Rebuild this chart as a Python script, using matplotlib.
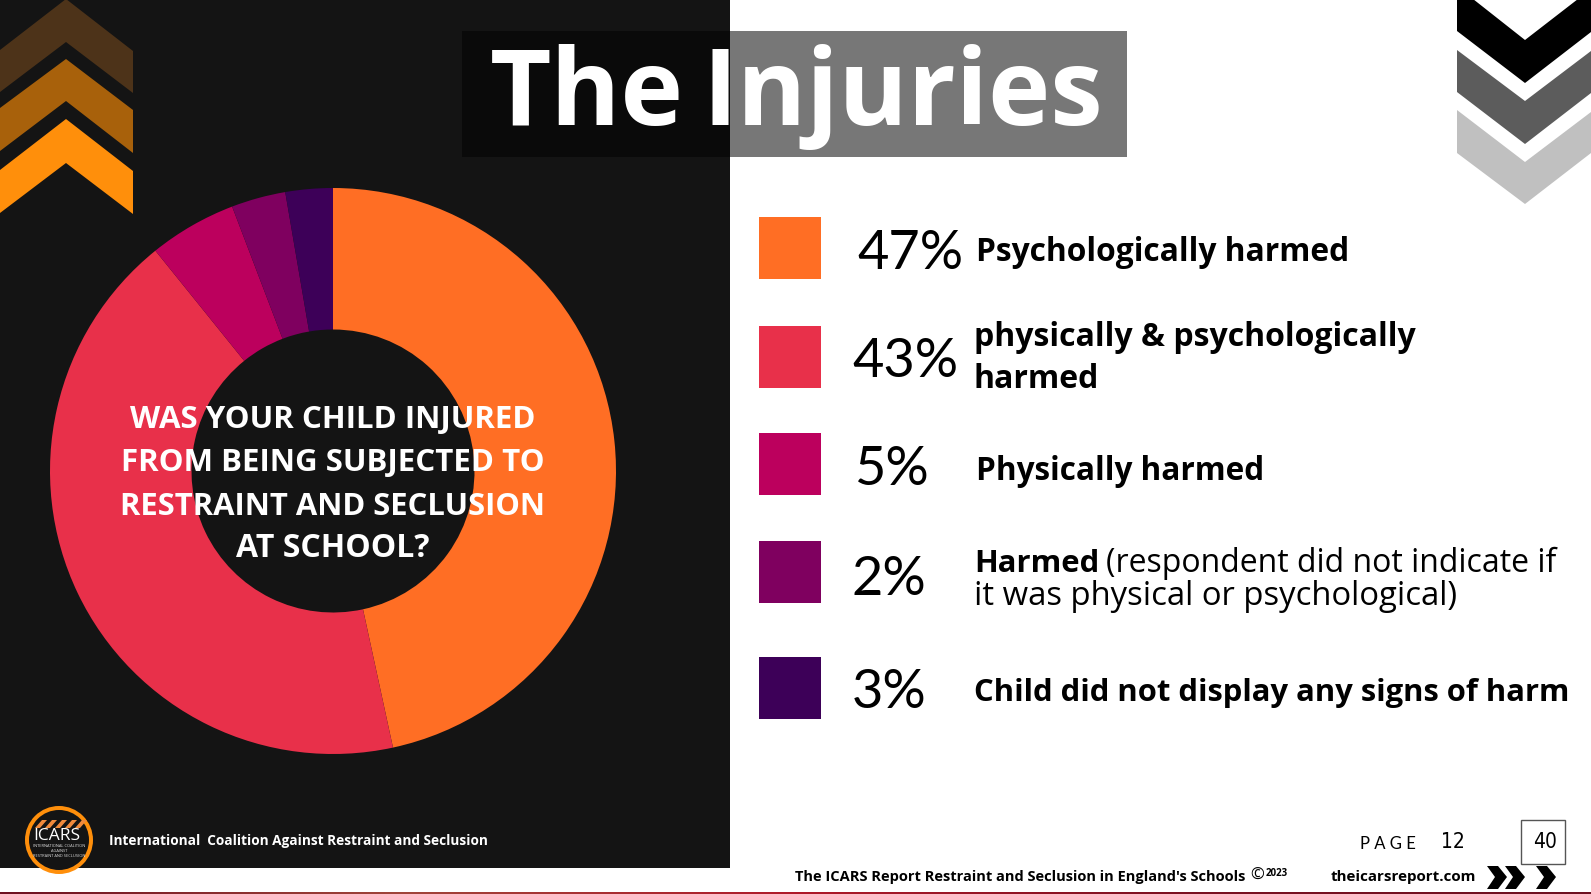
import numpy as np
import matplotlib
matplotlib.use('Agg')
import matplotlib.pyplot as plt
from matplotlib.colors import LinearSegmentedColormap
from matplotlib.patches import Polygon, Rectangle, Circle

# what the donut shows
slice_values = [46.6, 42.6, 5.0, 3.1, 2.7]
slice_colors = ['#ff6e24', '#e8304a', '#bc005d', '#7f005f', '#3d0058']
percent_labels = ['47%', '43%', '5%', '2%', '3%']

W, H = 1591, 895
DARK = '#141414'
FONT = 'Open Sans'

fig = plt.figure(figsize=(W / 100, H / 100), dpi=100)
bg = fig.add_axes([0, 0, 1, 1])


def txt(x, y, s, size, weight='bold', color='black', ha='left', family=FONT, stretch='normal'):
    return bg.text(x, y, s, fontsize=size, fontweight=weight, color=color, fontstretch=stretch,
                   ha=ha, va='baseline', family=family, zorder=6)


def chevron(points, color):
    bg.add_patch(Polygon(points, closed=True, fc=color, ec='none', zorder=2))


# panels
bg.add_patch(Rectangle((0, -1), 730, 869, fc=DARK, ec='none', zorder=1))
line_cmap = LinearSegmentedColormap.from_list(
    'footer_line', ['#6e1020', '#a0453a', '#b01a2a', '#7a1020', '#6e1020'])
bg.imshow(np.linspace(0, 1, 256).reshape(1, -1), cmap=line_cmap, aspect='auto',
          extent=(0, W, 895, 893), zorder=1)

# the image call resets the limits, so they go after it
bg.set_xlim(0, W)
bg.set_ylim(H - 1, -1)
bg.axis('off')

# top left chevrons
chevron([(0, 50), (66, -1), (133, 51), (133, 93), (66, 42), (0, 92)], '#4d3319')
chevron([(0, 108), (66, 59), (133, 110), (133, 153), (66, 101), (0, 151)], '#a8610b')
chevron([(0, 170), (66, 119), (133, 171), (133, 214), (66, 163), (0, 213)], '#ff8f0b')

# top right chevrons
chevron([(1457, -1), (1473, -1), (1525, 40), (1578, -1), (1591, -1), (1591, 32),
         (1525, 83), (1457, 31)], 'black')
chevron([(1457, 50), (1525, 101), (1591, 51), (1591, 93), (1525, 144), (1457, 92)], '#5c5c5c')
chevron([(1457, 110), (1525, 162), (1591, 112), (1591, 153), (1525, 204), (1457, 153)], '#c0c0c0')

# title
bg.add_patch(Rectangle((462, 31), 268, 126, fc='#0a0a0a', ec='none', zorder=3))
bg.add_patch(Rectangle((730, 31), 397, 126, fc='#777777', ec='none', zorder=3))
txt(490, 124, 'The', 76.5, color='white')
txt(703, 124, 'Injuries', 76, color='white')

# donut
cx, cy, r = 333, 472, 283
pie_ax = fig.add_axes([(cx - r) / W, 1 - (cy + r) / H, 2 * r / W, 2 * r / H])
pie_ax.pie(slice_values, colors=slice_colors, startangle=90, counterclock=False,
           radius=1, wedgeprops={'width': 0.5, 'linewidth': 0})
pie_ax.set_xlim(-1, 1)
pie_ax.set_ylim(-1, 1)

question = ['WAS YOUR CHILD INJURED', 'FROM BEING SUBJECTED TO',
            'RESTRAINT AND SECLUSION', 'AT SCHOOL?']
question_y = [428, 471, 515, 557]
question_size = [22.5, 22.5, 22.3, 23]
for line, y, size in zip(question, question_y, question_size):
    fig.text(cx / W, 1 - y / H, line, fontsize=size, fontweight='bold', color='white',
             ha='center', va='baseline', family=FONT, zorder=10)

# legend rows
square_tops = [217, 326, 433, 541, 657]
percent_x = [857, 852, 854, 852, 852]
percent_y = [268, 376, 484, 594, 707]
for top, col, lab, px, py in zip(square_tops, slice_colors, percent_labels, percent_x, percent_y):
    bg.add_patch(Rectangle((759, top), 62, 62, fc=col, ec='none', zorder=3))
    txt(px, py, lab, 39, weight='normal', family='Lato')

txt(976, 260, 'Psychologically harmed', 22.9)
txt(974, 345, 'physically & psychologically', 23)
txt(974, 387, 'harmed', 23)
txt(976, 479, 'Physically harmed', 22.7)
txt(974, 571, 'Harmed', 22.4)
txt(1106, 571, '(respondent did not indicate if', 23.05, weight='normal')
txt(974, 604, 'it was physical or psychological)', 23.7, weight='normal')
txt(974, 700, 'Child did not display any signs of harm', 22.3)

# logo
bg.add_patch(Circle((59, 840), 34, fc='#ff8f0b', ec='none', zorder=7))
bg.add_patch(Circle((59, 840), 30, fc=DARK, ec='none', zorder=8))
for sx in [35, 45, 55, 65, 75]:
    bg.add_patch(Polygon([(sx, 828), (sx + 5, 828), (sx + 12, 820), (sx + 7, 820)],
                         closed=True, fc='#f08a3c', ec='none', zorder=9))
bg.text(57, 839, 'ICARS', fontsize=12.5, color='white', ha='center', family=FONT, zorder=10)
for y, s in zip([846, 851, 856], ['INTERNATIONAL COALITION', 'AGAINST', 'RESTRAINT AND SECLUSION']):
    bg.text(59, y, s, fontsize=2.9, color='#dddddd', ha='center', family=FONT, zorder=10)

txt(109, 844, 'International  Coalition Against Restraint and Seclusion', 9.85, color='white')

# footer
txt(795, 880, "The ICARS Report Restraint and Seclusion in England's Schools", 10.55)
txt(1250, 879, '\u00a9', 12, weight='normal')
txt(1266, 875, '2023', 7)
txt(1331, 880, 'theicarsreport.com', 10.9)
txt(1360, 848, 'P A G E', 12, weight='normal', family='Lato')
txt(1441, 847, '12', 15, weight='normal', family='DejaVu Sans', stretch='condensed')
bg.add_patch(Rectangle((1521, 820), 44, 44, fc='white', ec='#555555', lw=1, zorder=3))
txt(1545, 847, '40', 15, weight='normal', ha='center', family='DejaVu Sans', stretch='condensed')
for x0 in [1487, 1505, 1536]:
    chevron([(x0, 866), (x0 + 11, 866), (x0 + 20, 877), (x0 + 11, 889), (x0, 889), (x0 + 8, 877)], 'black')

fig.savefig('out.png', dpi=100)
